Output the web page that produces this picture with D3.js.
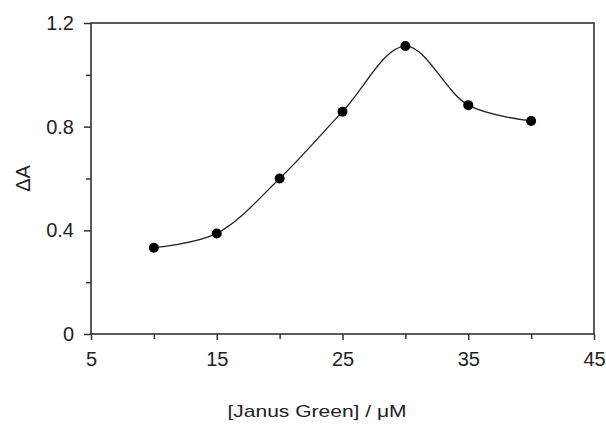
<!DOCTYPE html>
<html>
<head>
<meta charset="utf-8">
<script src="https://cdn.jsdelivr.net/npm/d3@7"></script>
<style>
  body { margin: 0; background: #fff; }
  text { font-family: "Liberation Sans", Arial, sans-serif; fill: #222; }
</style>
</head>
<body>
<svg id="chart" width="606" height="426"></svg>
<script>
// concentration of Janus Green (uM) and absorbance change
let conc = [10, 15, 20, 25, 30, 35, 40];
let deltaA = [0.333, 0.388, 0.600, 0.858, 1.111, 0.883, 0.822];

let xMajor = [5, 15, 25, 35, 45];
let xMinor = [10, 20, 30, 40];
let yMajor = [0, 0.4, 0.8, 1.2];
let yMinor = [0.2, 0.6, 1.0];

let margin = {top: 23, right: 12, bottom: 92, left: 91},
    width = 606 - margin.left - margin.right,
    height = 426 - margin.top - margin.bottom;

let svg = d3.select("#chart");
let g = svg.append("g")
    .attr("transform", "translate(" + margin.left + "," + margin.top + ")");

let x = d3.scaleLinear().domain([5, 45]).range([0, width]);
let y = d3.scaleLinear().domain([0, 1.2]).range([height, 0]);

// x axis, major ticks with labels, minor without
g.append("g")
    .attr("transform", "translate(0," + height + ")")
    .call(d3.axisBottom(x).tickValues(xMajor).tickSize(6).tickSizeOuter(0).tickPadding(12)
        .tickFormat(d3.format("d")))
    .call(a => a.select(".domain").remove())
    .call(a => a.selectAll("text").style("font-size", "20px"));
g.append("g")
    .attr("transform", "translate(0," + height + ")")
    .call(d3.axisBottom(x).tickValues(xMinor).tickSize(5).tickFormat(""))
    .call(a => a.select(".domain").remove());

// y axis
g.append("g")
    .call(d3.axisLeft(y).tickValues(yMajor).tickSize(7).tickPadding(10)
        .tickFormat(d => d === 0 ? "0" : d3.format(".1f")(d)))
    .call(a => a.select(".domain").remove())
    .call(a => a.selectAll("text").style("font-size", "20px"));
g.append("g")
    .call(d3.axisLeft(y).tickValues(yMinor).tickSize(5).tickFormat(""))
    .call(a => a.select(".domain").remove());

g.selectAll(".tick line").attr("stroke", "#333").attr("stroke-width", 1.5);

// frame
g.append("rect")
    .attr("width", width)
    .attr("height", height)
    .attr("fill", "none")
    .attr("stroke", "#333")
    .attr("stroke-width", 1.6);

let pts = conc.map((c, i) => [c, deltaA[i]]);

let line = d3.line()
    .x(d => x(d[0]))
    .y(d => y(d[1]))
    .curve(d3.curveCatmullRom.alpha(0.5));

g.append("path")
    .datum(pts)
    .attr("d", line)
    .attr("fill", "none")
    .attr("stroke", "#222")
    .attr("stroke-width", 1.3);

g.selectAll("circle")
    .data(pts)
    .enter()
    .append("circle")
    .attr("cx", d => x(d[0]))
    .attr("cy", d => y(d[1]))
    .attr("r", 5)
    .attr("fill", "#000");

// axis titles
svg.append("text")
    .attr("x", 317)
    .attr("y", 417)
    .attr("text-anchor", "middle")
    .attr("textLength", 179)
    .attr("lengthAdjust", "spacingAndGlyphs")
    .style("font-size", "17px")
    .text("[Janus Green] / \u03bcM");

svg.append("text")
    .attr("transform", "translate(30," + (margin.top + height / 2) + ") rotate(-90)")
    .attr("text-anchor", "middle")
    .style("font-size", "20px")
    .text("\u0394A");
</script>
</body>
</html>
